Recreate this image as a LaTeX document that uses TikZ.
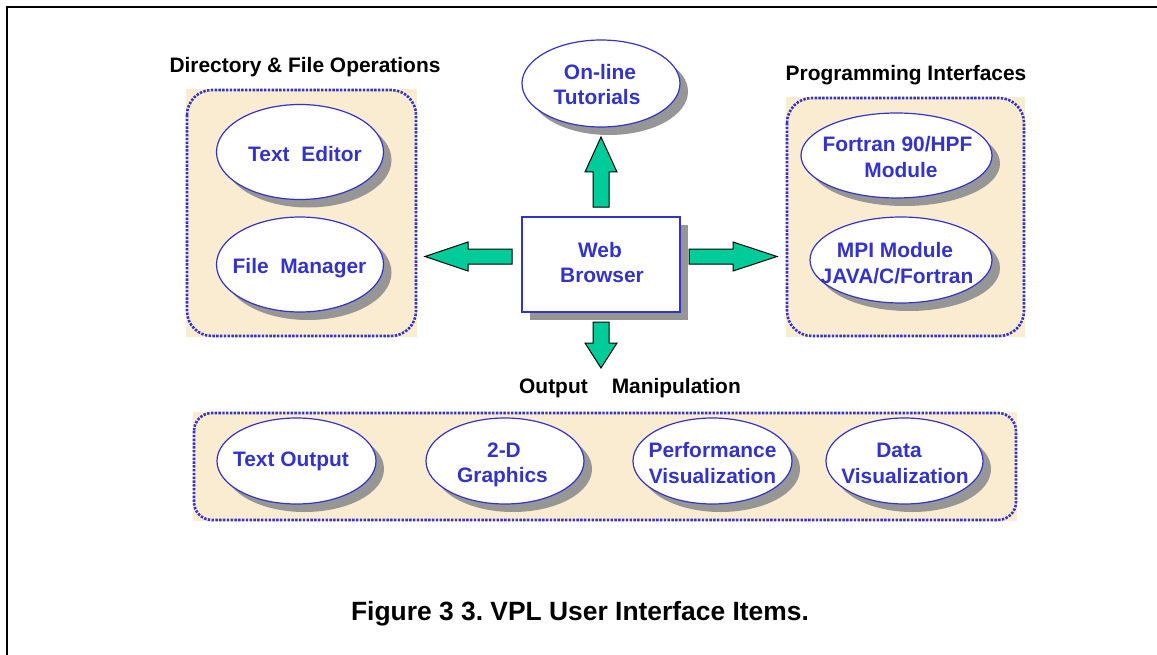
\documentclass[tikz,border=0pt]{standalone}
\usepackage{fontspec}
\setmainfont{Liberation Sans}
\usetikzlibrary{shapes.geometric,shadows}
\definecolor{vblue}{RGB}{51,51,204}
\definecolor{vgreen}{RGB}{0,204,153}
\definecolor{beige}{RGB}{250,236,208}
\definecolor{shade}{RGB}{150,150,150}
\frenchspacing
\begin{document}
\begin{tikzpicture}[x=1bp,y=-1bp,
  ell/.style={ellipse, draw=vblue, line width=1.2bp, fill=white, inner sep=0pt,
    drop shadow={shadow xshift=8bp, shadow yshift=-8bp, fill=shade, opacity=1}},
  wbox/.style={rectangle, draw=vblue, line width=2bp, fill=white, inner sep=0pt,
    drop shadow={shadow xshift=8bp, shadow yshift=-8bp, fill=shade, opacity=1}},
  lbl/.style={anchor=base, text=vblue, font=\fontsize{21}{25}\selectfont\bfseries, inner sep=0pt},
  ttl/.style={anchor=base, text=black, font=\fontsize{21}{25}\selectfont\bfseries, inner sep=0pt},
  blockarrow/.style={fill=vgreen, draw=black, line width=1bp, line join=miter},
  grpfill/.style={fill=beige},
  grpborder/.style={draw=vblue, line width=2.6bp, dash pattern=on 2.4bp off 1.4bp}]
\useasboundingbox (0,0) rectangle (1157,655);
% frame
\draw[line width=2bp] (7,656) -- (7,7) -- (1158,7);

% group backgrounds
\fill[grpfill] (186,89) rectangle (417,337);
\draw[grpborder, rounded corners=25bp] (187,90) rectangle (416,336);
\fill[grpfill] (786,97) rectangle (1025,337);
\draw[grpborder, rounded corners=25bp] (787,98) rectangle (1024,336);
\fill[grpfill] (193,412) rectangle (1017,521);
\draw[grpborder, rounded corners=18bp] (194,413) rectangle (1016,520);

% titles
\node[ttl] (t1) at (305,73) {Directory \& File Operations};
\node[ttl] (t2) at (906,81) {Programming Interfaces};
\node[ttl, anchor=base west] (t3) at (519,393) {Output\hspace{24bp}Manipulation};
\node[ttl, font=\fontsize{26.5}{30}\selectfont\bfseries] (cap) at (580,620) {Figure 3 3. VPL User Interface Items.};

% ellipses
\node[ell, minimum width=167bp, minimum height=95bp] (te) at (300,152) {};
\node[ell, minimum width=167bp, minimum height=95bp] (fm) at (300,264.5) {};
\node[ell, minimum width=158bp, minimum height=87bp] (ot) at (601,83.5) {};
\node[ell, minimum width=191bp, minimum height=85bp] (f90) at (896.5,155.5) {};
\node[ell, minimum width=182bp, minimum height=86bp] (mpi) at (901,260) {};
\node[ell, minimum width=159bp, minimum height=86bp] (to) at (296.5,461) {};
\node[ell, minimum width=158bp, minimum height=86bp] (g2) at (505,461) {};
\node[ell, minimum width=159bp, minimum height=86bp] (pv) at (712.5,461) {};
\node[ell, minimum width=157bp, minimum height=86bp] (dv) at (904.5,461) {};
\node[wbox, minimum width=158bp, minimum height=95bp] (wb) at (601,264.5) {};

% labels
\node[lbl] (te1) at (305,162) {Text\ \ Editor};
\node[lbl] (fm1) at (299.5,273) {File\ \ Manager};
\node[lbl] (ot1) at (600,80) {On-line};
\node[lbl] (ot2) at (597,105) {Tutorials};
\node[lbl] (wb1) at (600,257) {Web};
\node[lbl] (wb2) at (602,282) {Browser};
\node[lbl] (f901) at (897.5,152) {Fortran 90/HPF};
\node[lbl] (f902) at (901,178) {Module};
\node[lbl] (mpi1) at (895,257) {MPI Module};
\node[lbl] (mpi2) at (897,283) {JAVA/C/Fortran};
\node[lbl] (to1) at (291,466) {Text Output};
\node[lbl] (g21) at (504,457) {2-D};
\node[lbl] (g22) at (502.5,482) {Graphics};
\node[lbl] (pv1) at (712.5,457) {Performance};
\node[lbl] (pv2) at (712.5,483) {Visualization};
\node[lbl] (dv1) at (899,457) {Data};
\node[lbl] (dv2) at (905,483) {Visualization};

% block arrows
\draw[blockarrow] (593,207) -- (593,172) -- (585,172) -- (601,137) -- (617,172) -- (609,172) -- (609,207) -- cycle;
\draw[blockarrow] (593,322) -- (593,343) -- (585,343) -- (601,368) -- (617,343) -- (609,343) -- (609,322) -- cycle;
\draw[blockarrow] (512,249) -- (468,249) -- (468,242) -- (425,256.5) -- (468,271) -- (468,264) -- (512,264) -- cycle;
\draw[blockarrow] (689,249) -- (733,249) -- (733,242) -- (777,256.5) -- (733,271) -- (733,264) -- (689,264) -- cycle;
\end{tikzpicture}
\end{document}
